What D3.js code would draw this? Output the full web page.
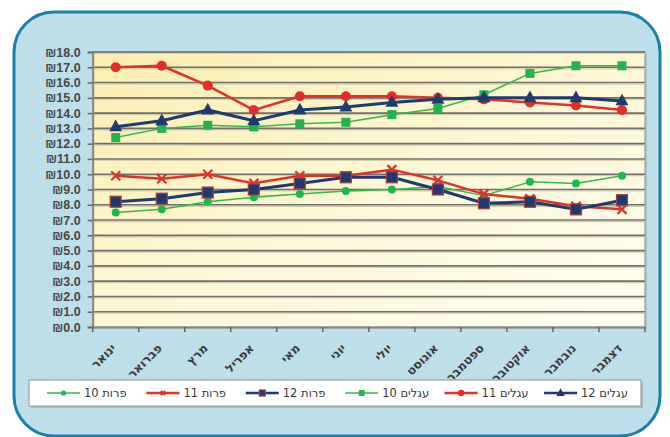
<!DOCTYPE html>
<html><head><meta charset="utf-8">
<script src="https://cdn.jsdelivr.net/npm/d3@7"></script>
<style>
html,body{margin:0;padding:0;background:#fff;}
svg{display:block;}
</style></head>
<body>
<svg id="c" width="670" height="437"></svg>
<script>
const months = ["ינואר","פברואר","מרץ","אפריל","מאי","יוני","יולי","אוגוסט","ספטמבר","אוקטובר","נובמבר","דצמבר"];
const yTicks = [0,1,2,3,4,5,6,7,8,9,10,11,12,13,14,15,16,17,18];
const seriesNames = ["פרות 10","פרות 11","פרות 12","עגלים 10","עגלים 11","עגלים 12"];
const cows10   = [7.5,7.7,8.2,8.5,8.7,8.9,9.0,9.2,8.6,9.5,9.4,9.9];
const cows11   = [9.9,9.7,10.0,9.4,9.9,9.9,10.3,9.6,8.7,8.4,7.9,7.7];
const cows12   = [8.2,8.4,8.8,9.0,9.4,9.8,9.8,9.0,8.1,8.2,7.7,8.3];
const calves10 = [12.4,13.0,13.2,13.1,13.3,13.4,13.9,14.3,15.2,16.6,17.1,17.1];
const calves11 = [17.0,17.1,15.8,14.2,15.1,15.1,15.1,15.0,14.9,14.7,14.5,14.2];
const calves12 = [13.1,13.5,14.2,13.5,14.2,14.4,14.7,14.9,15.0,15.0,15.0,14.8];
const seriesValues = [cows10,cows11,cows12,calves10,calves11,calves12];

const GREEN="#35b84b", RED="#e2302b", NAVY="#1e3a6e";
const styles = [
  {color:GREEN, width:1.5, marker:"circle", size:4, fill:"#1fb64a", stroke:"none"},
  {color:RED, width:2.5, marker:"x", size:4.5, fill:"none", stroke:RED},
  {color:NAVY, width:3, marker:"square", size:11, fill:NAVY, stroke:"#a84040"},
  {color:GREEN, width:1.5, marker:"square", size:9, fill:"#22b34c", stroke:"none"},
  {color:RED, width:2.5, marker:"circle", size:5, fill:"#e52c2c", stroke:"none"},
  {color:NAVY, width:3, marker:"triangle", size:13, fill:NAVY, stroke:"none"}
];

const svg = d3.select("#c");
const defs = svg.append("defs");
const g1 = defs.append("linearGradient").attr("id","pbg").attr("x1","0").attr("y1","0").attr("x2","1").attr("y2","1");
g1.append("stop").attr("offset","0").attr("stop-color","#fbeeae");
g1.append("stop").attr("offset","0.55").attr("stop-color","#fdf8d8");
g1.append("stop").attr("offset","1").attr("stop-color","#fffdf2");

// outer frame
svg.append("path")
  .attr("d", (()=>{const x0=14,y0=12,x1=660,y1=436,r=40;
    return `M${x0},${y0+r} A${r},${r} 0 0 1 ${x0+r},${y0} L${x1-r},${y0} A${r},${r} 0 0 1 ${x1},${y0+r} L${x1},${y1-r} A${r},${r} 0 0 1 ${x1-r},${y1} L${x0+r},${y1} A${r},${r} 0 0 1 ${x0},${y1-r} Z`;})())
  .attr("fill","#bcdfea").attr("stroke","#1a7fa9").attr("stroke-width",3);

const L=92.7, R=645, T=52, B=327;
const x = d3.scaleBand().domain(months).range([L,R]).padding(0);
const y = d3.scaleLinear().domain([0,18]).range([B,T]);
const cx = m => x(m)+x.bandwidth()/2;

// plot area
svg.append("rect").attr("x",L+2).attr("y",T+2).attr("width",R-L).attr("height",B-T).attr("fill","#9aa6a8").attr("opacity",0.5);
svg.append("rect").attr("x",L).attr("y",T).attr("width",R-L).attr("height",B-T).attr("fill","url(#pbg)").attr("stroke","#a8a8a8").attr("stroke-width",1.5);

// grid
const grid = svg.append("g");
yTicks.filter(v=>v>0).forEach(v=>{
  grid.append("line").attr("x1",L).attr("x2",R).attr("y1",y(v)+1.5).attr("y2",y(v)+1.5).attr("stroke","#d8cfa8").attr("stroke-width",1.2);
  grid.append("line").attr("x1",L).attr("x2",R).attr("y1",y(v)).attr("y2",y(v)).attr("stroke","#6f6f6f").attr("stroke-width",1.6);
});

// y axis
const yAxis = d3.axisLeft(y).tickValues(yTicks).tickSize(5).tickPadding(7).tickFormat(v=>"₪"+v.toFixed(1));
const ya = svg.append("g").attr("transform",`translate(${L},0)`).call(yAxis);
ya.select(".domain").attr("stroke","#888").attr("stroke-width",2);
ya.selectAll(".tick line").attr("stroke","#666").attr("stroke-width",1.5);
ya.selectAll(".tick text").attr("fill","#474747").attr("font-family","Liberation Sans, Arial, sans-serif").attr("font-weight","bold").attr("font-size","12.5px");

// x axis
const xAxis = d3.axisBottom(x).tickSize(0).tickFormat("");
const xa = svg.append("g").attr("transform",`translate(0,${B})`).call(xAxis);
xa.select(".domain").attr("stroke","#888").attr("stroke-width",2);
const bounds = months.map(m=>x(m)).concat([R]);
xa.selectAll(".bt").data(bounds).enter().append("line").attr("class","bt")
  .attr("x1",d=>d).attr("x2",d=>d).attr("y1",0).attr("y2",5).attr("stroke","#666").attr("stroke-width",1.5);
svg.append("g").selectAll("text").data(months).enter().append("text")
  .attr("transform",m=>`translate(${cx(m)-2},${B+19}) rotate(-45)`)
  .attr("text-anchor","end").attr("dy","0.35em")
  .attr("font-family","DejaVu Sans, sans-serif").attr("font-weight","bold").attr("font-size","12px").attr("fill","#3a3a3a")
  .text(m=>m);

// markers
function drawMarker(g, st, px, py, scale){
  const s = st.size*scale;
  if(st.marker==="circle"){
    g.append("circle").attr("cx",px).attr("cy",py).attr("r",s).attr("fill",st.fill);
  } else if(st.marker==="square"){
    g.append("rect").attr("x",px-s/2).attr("y",py-s/2).attr("width",s).attr("height",s)
      .attr("fill",st.fill).attr("stroke",st.stroke).attr("stroke-width",st.stroke==="none"?0:1.2);
  } else if(st.marker==="triangle"){
    const h=s*0.9;
    g.append("path").attr("d",`M${px},${py-h*0.62} L${px+s/2},${py+h*0.38} L${px-s/2},${py+h*0.38} Z`).attr("fill",st.fill);
  } else if(st.marker==="x"){
    g.append("path").attr("d",`M${px-s},${py-s} L${px+s},${py+s} M${px-s},${py+s} L${px+s},${py-s}`)
      .attr("stroke",st.stroke).attr("stroke-width",2.2).attr("fill","none");
  }
}

const line = d3.line().x((d,i)=>cx(months[i])).y(d=>y(d));
seriesValues.forEach((vals,si)=>{
  const st = styles[si];
  const g = svg.append("g");
  g.append("path").datum(vals).attr("d",line).attr("fill","none").attr("stroke",st.color).attr("stroke-width",st.width).attr("stroke-linejoin","round");
  vals.forEach((v,i)=>drawMarker(g, st, cx(months[i]), y(v), 1));
});

// legend
const lg = svg.append("g");
lg.append("rect").attr("x",31).attr("y",382).attr("width",612).attr("height",26).attr("fill","#9aa6a8").attr("opacity",0.6);
lg.append("rect").attr("x",29).attr("y",380).attr("width",612).attr("height",26).attr("fill","#fff").attr("stroke","#a0a0a0").attr("stroke-width",1.2);
seriesNames.forEach((n,i)=>{
  const st = styles[i];
  const sx = 47 + i*99.4, ly = 393;
  lg.append("line").attr("x1",sx).attr("x2",sx+33).attr("y1",ly).attr("y2",ly).attr("stroke",st.color).attr("stroke-width",Math.min(st.width,2.5));
  drawMarker(lg, st, sx+16.5, ly, st.marker==="x"?0.45:(st.marker==="square"&&i===2?0.55:0.65));
  lg.append("text").attr("x",sx+37).attr("y",ly).attr("dy","0.35em")
    .attr("font-family","DejaVu Sans, sans-serif").attr("font-size","11.5px").attr("fill","#383838").text(n);
});
</script>
</body></html>
